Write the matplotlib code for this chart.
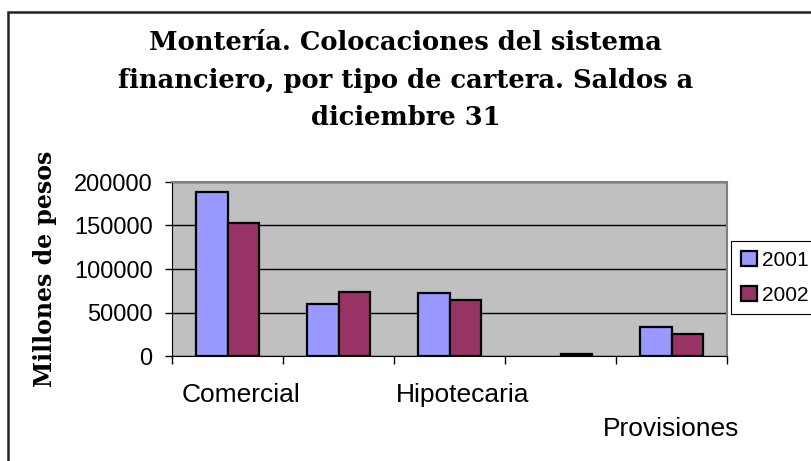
"""
Montería: colocaciones del sistema financiero por tipo de cartera (2001 vs 2002)
"""

import numpy as np
import matplotlib.pyplot as plt
from matplotlib.patches import Rectangle
from matplotlib.transforms import blended_transform_factory

# data
categories = ["Comercial", "", "Hipotecaria", "", "Provisiones"]
label_row = [0, 0, 0, 0, 1]
years = ["2001", "2002"]
saldos_2001 = [188000, 60000, 72000, np.nan, 33000]
saldos_2002 = [152500, 73500, 64500, 2000, 25500]
y_ticks = [0, 50000, 100000, 150000, 200000]

colors = ["#9999FF", "#993366"]

fig = plt.figure(figsize=(8.11, 4.61), dpi=100)
ax = fig.add_axes([172 / 811, 1 - 356 / 461, 555 / 811, 174 / 461])
ax.set_facecolor("#C0C0C0")

x = np.arange(len(categories))
w = 0.286
for i, (vals, yr) in enumerate(zip([saldos_2001, saldos_2002], years)):
	ax.bar(x + (i - 0.5) * w, vals, width=w, color=colors[i], edgecolor="black",
		   linewidth=1.6, label=yr, zorder=3)

ax.set_xlim(-0.5, len(categories) - 0.5)
ax.set_ylim(0, 200000)
ax.set_yticks(y_ticks)
ax.set_yticklabels([str(v) for v in y_ticks], fontsize=17, family="Liberation Sans")
ax.yaxis.grid(True, color="black", linewidth=1, zorder=1)
ax.tick_params(axis="y", length=5, width=1, pad=9)

# tick marks on the category boundaries, labels drawn separately (staggered)
ax.set_xticks(np.arange(len(categories) + 1) - 0.5)
ax.set_xticklabels([])
ax.tick_params(axis="x", length=6, width=1)
trans = blended_transform_factory(ax.transData, ax.transAxes)
for i, name in enumerate(categories):
	shift = 0.12 if label_row[i] == 0 else 0.0
	ax.text(x[i] + shift, -0.155 - 0.195 * label_row[i], name, transform=trans, ha="center", va="top",
			fontsize=19, family="Liberation Sans")

for s in ["top", "right"]:
	ax.spines[s].set_color("#808080")
	ax.spines[s].set_linewidth(1.5)
for s in ["left", "bottom"]:
	ax.spines[s].set_color("black")

ax.set_ylabel("Millones de pesos", fontsize=17, family="DejaVu Serif", fontweight="bold")
ax.yaxis.set_label_coords(-0.207, 0.5)

fig.suptitle("Montería. Colocaciones del sistema\nfinanciero, por tipo de cartera. Saldos a\ndiciembre 31",
			 x=0.5, y=0.934, fontsize=18.5, family="DejaVu Serif", fontweight="bold", linespacing=1.62)

leg = ax.legend(loc="center left", bbox_to_anchor=(1.008, 0.45), fontsize=15, frameon=True,
				fancybox=False, edgecolor="black", framealpha=1, handlelength=0.78, handleheight=0.78,
				handletextpad=0.25, borderpad=0.45, labelspacing=0.75, borderaxespad=0)
for t in leg.get_texts():
	t.set_family("Liberation Sans")
leg.get_frame().set_linewidth(0.8)

# chart frame (only top and left edges are visible)
fig.patches.append(Rectangle((7.5 / 811, -0.1), 1.2, 1.1 - 12 / 461, transform=fig.transFigure,
							 fill=False, edgecolor="#222222", linewidth=1.8))

fig.savefig("out.png", dpi=100)
